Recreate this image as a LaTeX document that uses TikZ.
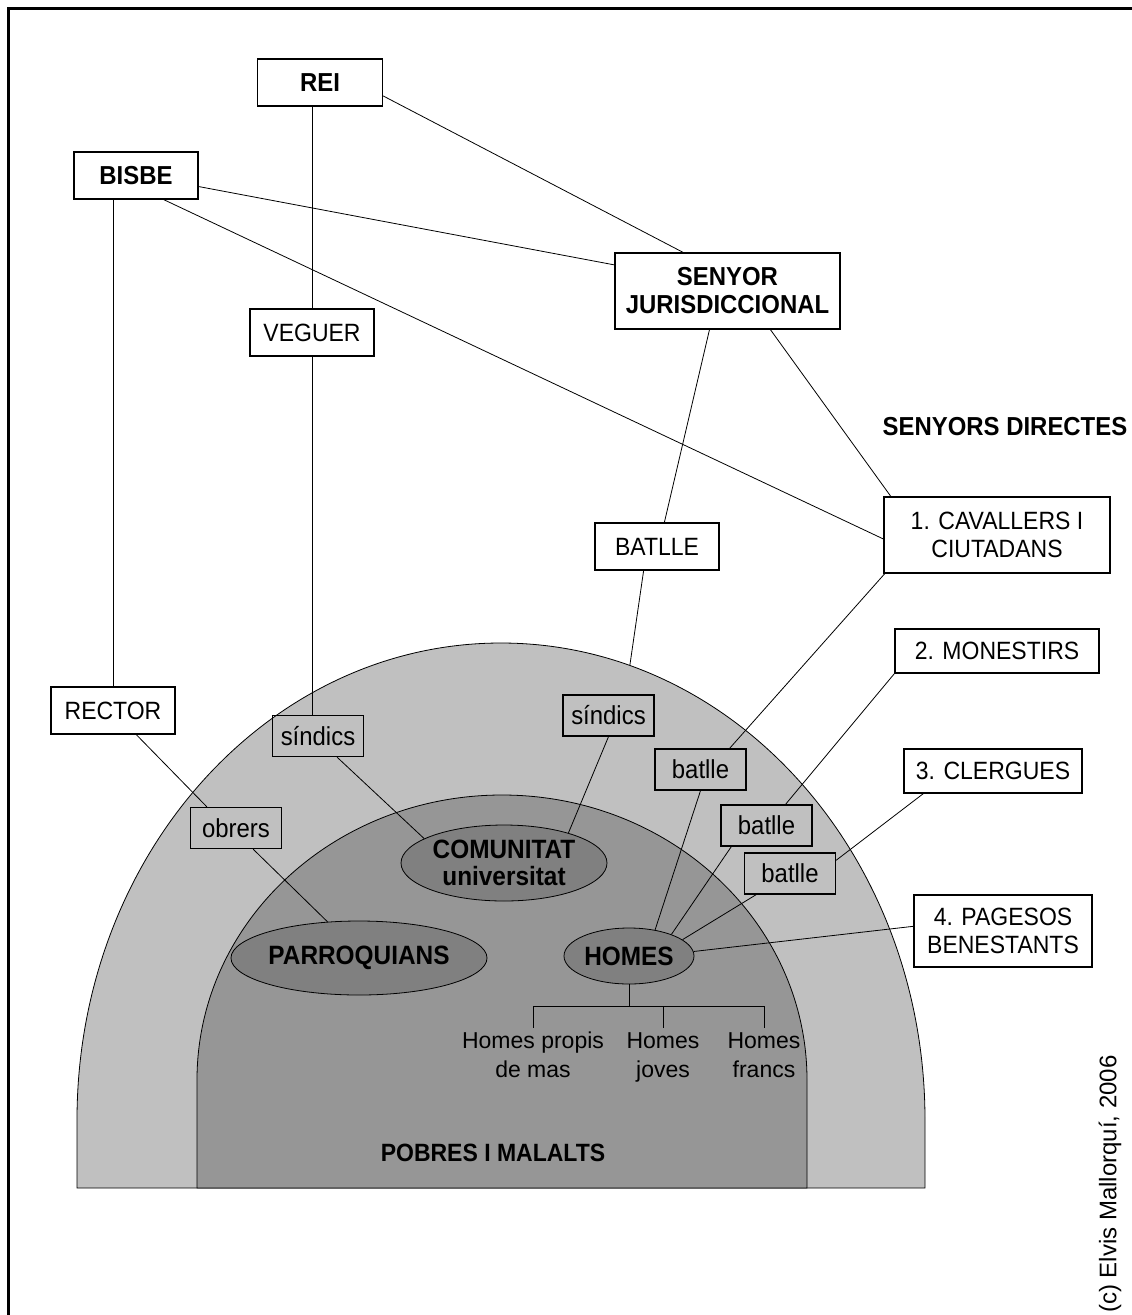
\documentclass[tikz,border=0pt]{standalone}
\usepackage{fontspec}
\usetikzlibrary{shapes.geometric}
\newfontfamily\labfont[FakeStretch=0.92]{Liberation Sans}
\newfontfamily\plainfont{Liberation Sans}
\definecolor{domeout}{RGB}{192,192,192}
\definecolor{domein}{RGB}{150,150,150}
\definecolor{ovalgray}{RGB}{128,128,128}
\pgfdeclarelayer{back}
\pgfdeclarelayer{dome}
\pgfsetlayers{back,dome,main}
\tikzset{
  topbox/.style={draw, line width=1.3pt, fill=white, minimum height=47pt, inner sep=2pt,
    align=center, font=\labfont\bfseries\fontsize{26}{28}\selectfont},
  outbox/.style={draw, line width=1.3pt, fill=white, minimum height=47pt, inner sep=2pt,
    align=center, font=\labfont\fontsize{25}{28}\selectfont},
  inbox/.style={draw, line width=1.3pt, minimum width=91pt, minimum height=41pt, inner sep=2pt,
    font=\labfont\fontsize{26}{28}\selectfont},
  oval/.style={ellipse, draw, line width=0.8pt, fill=ovalgray, inner sep=0pt, align=center,
    font=\labfont\bfseries\fontsize{26.5}{27}\selectfont},
  wire/.style={line width=0.8pt},
  homestext/.style={align=center, inner sep=4pt, font=\plainfont\fontsize{23}{29}\selectfont}
}
\begin{document}
\begin{tikzpicture}[x=1pt,y=1pt]
\useasboundingbox (0,0) rectangle (1132,-1315);
\draw[line width=3pt] (8,-1315) -- (8,-8) -- (1132,-8);

% the two halves of the dome
\begin{pgfonlayer}{dome}
\filldraw[fill=domeout, line width=0.8pt] (77,-1188) -- (77,-1120)
  arc[start angle=180, end angle=0, x radius=424pt, y radius=477pt] -- (925,-1188) -- cycle;
\filldraw[fill=domein, line width=0.8pt] (197,-1188) -- (197,-1080)
  arc[start angle=180, end angle=0, x radius=305pt, y radius=285pt] -- (807,-1188) -- cycle;
\end{pgfonlayer}

\node[topbox, minimum width=125pt] (rei) at (320,-82.5) {REI};
\node[topbox, minimum width=124pt] (bisbe) at (136,-175.5) {BISBE};
\node[outbox, minimum width=124pt] (veguer) at (312,-332.5) {VEGUER};
\node[topbox, minimum width=225pt, minimum height=76pt] (senyor) at (727.5,-291) {SENYOR\\JURISDICCIONAL};
\node[font=\labfont\bfseries\fontsize{26}{28}\selectfont] (directes) at (1005,-427) {SENYORS DIRECTES};
\node[outbox, minimum width=226pt, minimum height=76pt] (cavallers) at (997,-535) {1. CAVALLERS I\\CIUTADANS};
\node[outbox, minimum width=124pt] (batllesj) at (657,-546.5) {BATLLE};
\node[outbox, minimum width=124pt] (rector) at (113,-710.5) {RECTOR};
\node[outbox, minimum width=204pt, minimum height=44pt] (monestirs) at (997,-651) {2. MONESTIRS};
\node[outbox, minimum width=178pt, minimum height=44pt] (clergues) at (993,-771) {3. CLERGUES};
\node[outbox, minimum width=178pt, minimum height=72pt] (pagesos) at (1003,-931) {4. PAGESOS\\BENESTANTS};

\node[inbox] (sindicsA) at (318,-736) {síndics};
\node[inbox] (obrers) at (236,-828) {obrers};
\node[inbox] (sindicsB) at (608.5,-715.5) {síndics};
\node[inbox] (batlleA) at (700.5,-769.5) {batlle};
\node[inbox] (batlleB) at (766.5,-825.5) {batlle};
\node[inbox] (batlleC) at (790,-873.5) {batlle};

\node[oval, minimum width=206pt, minimum height=76pt] (comunitat) at (504,-863) {COMUNITAT\\universitat};
\node[oval, minimum width=206pt, minimum height=74pt] (parroquians) at (359,-958) {PARROQUIANS};
\node[oval, minimum width=130pt, minimum height=56pt] (homes) at (629,-956) {HOMES};

\node[homestext, anchor=north] (propis) at (533,-1028) {Homes propis\\de mas};
\node[homestext, anchor=north] (joves) at (663,-1028) {Homes\\joves};
\node[homestext, anchor=north] (francs) at (764,-1028) {Homes\\francs};
\node[font=\labfont\bfseries\fontsize{25}{27}\selectfont] (pobres) at (493,-1153) {POBRES I MALALTS};
\node[rotate=90, font=\plainfont\fontsize{24}{26}\selectfont] (autor) at (1110,-1184) {(c) Elvis Mallorquí, 2006};

\draw[wire] (veguer.north) -- (veguer.north |- rei.south);
\draw[wire] (veguer.south) -- (veguer.south |- sindicsA.north);
\draw[wire] (rector.north) -- (rector.north |- bisbe.south);
\draw[wire] (rei.-12) -- (senyor.139);
\draw[wire] (bisbe.-10) -- (senyor.167);
\draw[wire] (bisbe.-41) -- (cavallers.182);
\draw[wire] (senyor.-115) -- (batllesj.73);
\draw[wire] (senyor.-42) -- (cavallers.160);
\begin{pgfonlayer}{back}
\draw[wire] (batllesj.-119) -- (sindicsB.51);
\end{pgfonlayer}
\draw[wire] (cavallers.199) -- (batlleA.36);
\draw[wire] (monestirs.south west) -- (batlleB.48);
\draw[wire] (clergues.198) -- (batlleC.16);
\draw[wire] (batlleA.south) -- (homes.45);
\draw[wire] (batlleB.211) -- (homes.27);
\draw[wire] (batlleC.212) -- (homes.17);
\draw[wire] (pagesos.177) -- (homes.4);
\draw[wire] (sindicsB.south) -- (comunitat.25);
\draw[wire] (sindicsA.-48) -- (comunitat.163);
\draw[wire] (rector.-46) -- (obrers.144);
\draw[wire] (obrers.-51) -- (parroquians.131);

\coordinate (bar) at (0,-1006);
\draw[wire] (homes.south) -- (homes.south |- bar);
\draw[wire] (propis.north |- bar) -- (francs.north |- bar);
\foreach \n in {propis,joves,francs}
  \draw[wire] (\n.north |- bar) -- (\n.north);
\end{tikzpicture}
\end{document}
